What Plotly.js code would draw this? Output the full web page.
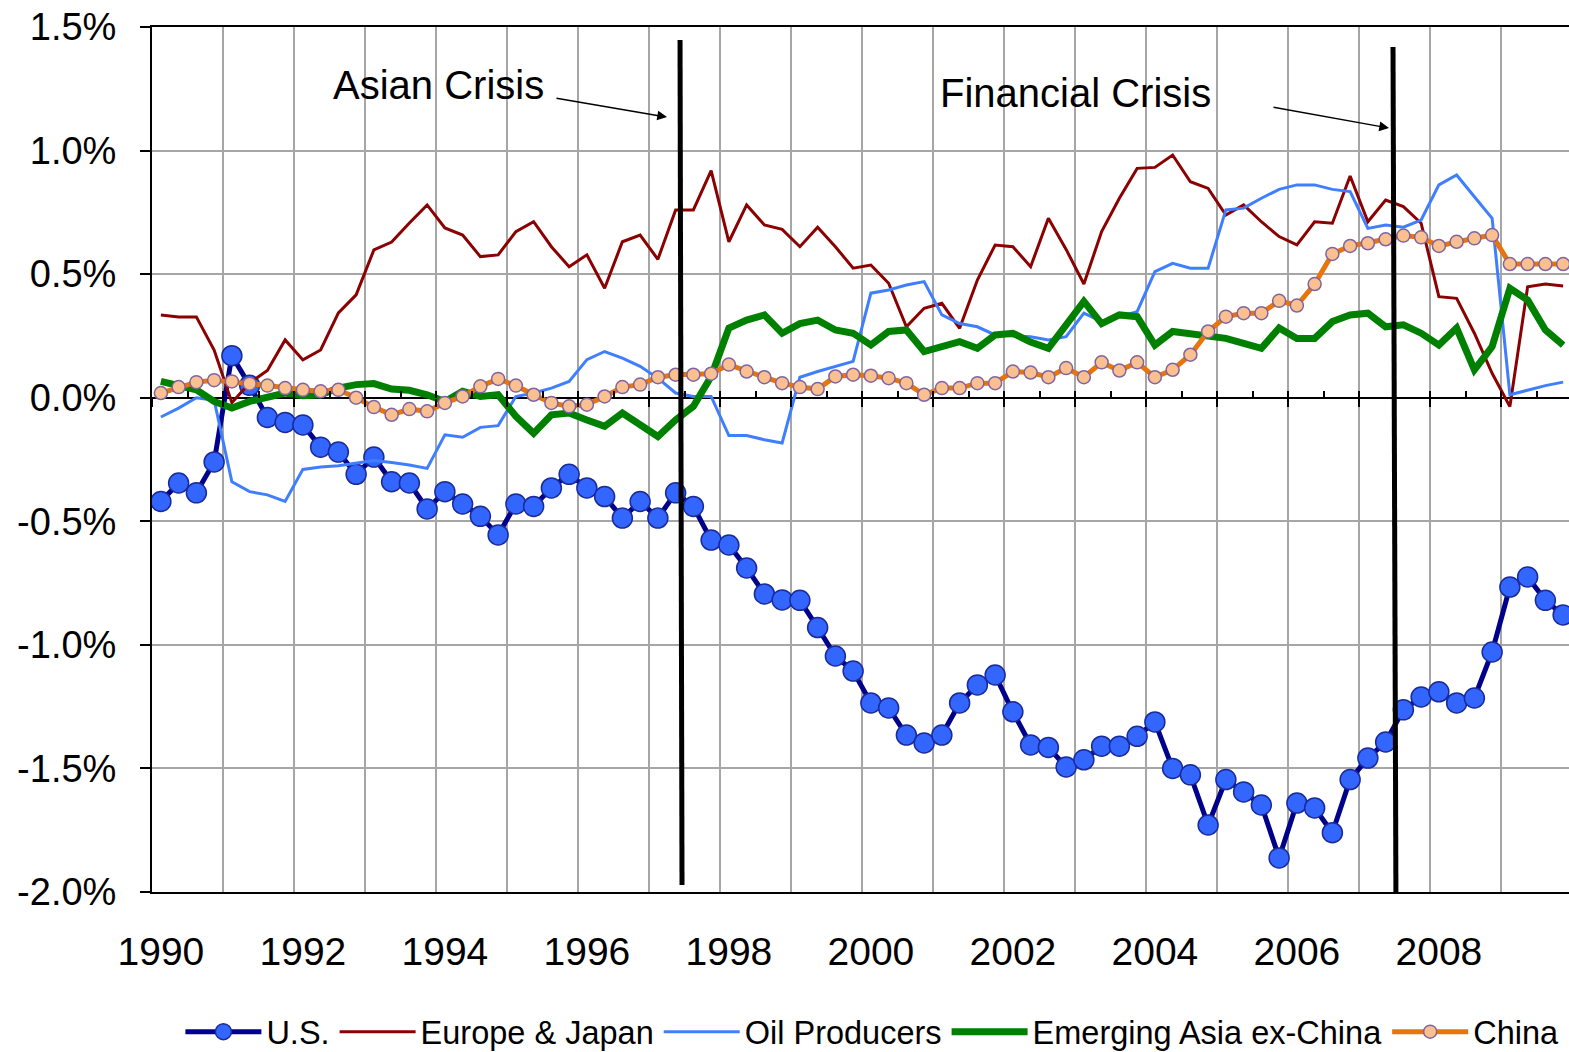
<!DOCTYPE html>
<html>
<head>
<meta charset="utf-8">
<script src="https://cdn.plot.ly/plotly-3.0.1.min.js"></script>
<style>
html,body{margin:0;padding:0;overflow:hidden;background:#fff;}
#chart{width:1580px;height:1052px;}
</style>
</head>
<body>
<div id="chart"></div>
<script>
// ---- data (percent of world GDP, quarterly 1990Q1 - 2009Q4) ----
const years = [];
for (let y = 1990; y <= 2009; y++) years.push(y);
const quarters = [];
years.forEach(y => { for (let q = 1; q <= 4; q++) quarters.push(y + (q - 0.5) / 4); });

const us = [-0.42,-0.345,-0.385,-0.26,0.17,0.05,-0.08,-0.10,-0.11,-0.20,
  -0.22,-0.31,-0.24,-0.34,-0.345,-0.45,-0.38,-0.43,-0.48,-0.555,
  -0.43,-0.44,-0.365,-0.31,-0.365,-0.40,-0.487,-0.42,-0.487,-0.385,
  -0.44,-0.576,-0.596,-0.689,-0.794,-0.818,-0.82,-0.93,-1.045,-1.106,
  -1.235,-1.255,-1.365,-1.397,-1.365,-1.235,-1.162,-1.122,-1.271,-1.405,
  -1.415,-1.494,-1.465,-1.41,-1.41,-1.37,-1.312,-1.50,-1.526,-1.729,
  -1.545,-1.595,-1.648,-1.862,-1.64,-1.66,-1.76,-1.545,-1.458,-1.393,
  -1.263,-1.211,-1.19,-1.235,-1.215,-1.029,-0.766,-0.725,-0.82,-0.879];
const europeJapan = [0.335,0.327,0.327,0.193,-0.02,0.06,0.11,0.234,0.153,0.193,
  0.343,0.416,0.598,0.63,0.707,0.78,0.687,0.658,0.571,0.578,
  0.672,0.712,0.611,0.53,0.578,0.443,0.631,0.658,0.56,0.76,
  0.76,0.919,0.631,0.78,0.699,0.681,0.611,0.69,0.611,0.524,
  0.537,0.463,0.287,0.362,0.382,0.281,0.476,0.618,0.611,0.53,
  0.726,0.60,0.46,0.672,0.807,0.928,0.932,0.982,0.874,0.847,
  0.739,0.78,0.712,0.652,0.618,0.712,0.706,0.897,0.712,0.80,
  0.773,0.706,0.409,0.402,0.261,0.099,-0.036,0.449,0.46,0.452];
const oilProducers = [-0.078,-0.042,0.0,-0.01,-0.34,-0.38,-0.393,-0.42,-0.29,-0.28,
  -0.275,-0.265,-0.254,-0.262,-0.272,-0.286,-0.15,-0.16,-0.12,-0.113,
  0.005,0.019,0.039,0.066,0.154,0.187,0.16,0.127,0.079,0.019,
  0.005,0.005,-0.153,-0.153,-0.17,-0.183,0.083,0.106,0.127,0.147,
  0.423,0.436,0.456,0.47,0.335,0.30,0.287,0.254,0.25,0.247,
  0.234,0.247,0.342,0.308,0.328,0.348,0.51,0.544,0.524,0.524,
  0.76,0.767,0.807,0.843,0.861,0.861,0.843,0.834,0.685,0.699,
  0.69,0.719,0.861,0.901,0.813,0.726,0.012,0.032,0.049,0.063];
const emergingAsia = [0.066,0.046,0.032,-0.015,-0.042,-0.015,0.005,0.019,0.008,0.012,
  0.039,0.053,0.057,0.035,0.03,0.012,-0.015,0.026,0.005,0.012,
  -0.075,-0.144,-0.069,-0.062,-0.09,-0.116,-0.062,-0.11,-0.157,-0.09,
  -0.035,0.086,0.282,0.314,0.335,0.261,0.30,0.314,0.274,0.261,
  0.213,0.268,0.274,0.187,0.207,0.227,0.2,0.254,0.261,0.225,
  0.20,0.295,0.39,0.30,0.335,0.328,0.213,0.268,0.261,0.247,
  0.24,0.22,0.20,0.282,0.24,0.24,0.308,0.335,0.342,0.287,
  0.295,0.261,0.213,0.282,0.113,0.207,0.443,0.395,0.274,0.213];
const china = [0.019,0.043,0.063,0.071,0.066,0.057,0.049,0.039,0.032,0.026,
  0.032,0.0,-0.038,-0.069,-0.046,-0.055,-0.021,0.005,0.046,0.076,
  0.049,0.012,-0.021,-0.035,-0.028,0.005,0.043,0.053,0.083,0.093,
  0.093,0.097,0.134,0.106,0.083,0.059,0.043,0.035,0.086,0.093,
  0.089,0.079,0.059,0.012,0.039,0.039,0.059,0.059,0.106,0.102,
  0.083,0.12,0.083,0.143,0.11,0.143,0.083,0.113,0.174,0.268,
  0.328,0.342,0.342,0.392,0.373,0.46,0.582,0.614,0.625,0.641,
  0.656,0.649,0.614,0.631,0.645,0.658,0.541,0.541,0.541,0.541];

const seriesNames = ['U.S.', 'Europe & Japan', 'Oil Producers', 'Emerging Asia ex-China', 'China'];

const xLabelYears = [1990,1992,1994,1996,1998,2000,2002,2004,2006,2008];
const yTickVals = [-2.0,-1.5,-1.0,-0.5,0.0,0.5,1.0,1.5];
const yTickText = ['-2.0%','-1.5%','-1.0%','-0.5%','0.0%','0.5%','1.0%','1.5%'];

// crisis annotations
const crisisLabels = ['Asian Crisis', 'Financial Crisis'];
const crisisLineTop = [[1997.437, 1.447], [2007.479, 1.419]];
const crisisLineBottom = [[1997.465, -1.972], [2007.52, -2.0]];
const crisisLabelPos = [[1994.042, 1.265], [2003.014, 1.233]];
const crisisArrowTail = [[1995.676, 1.2125], [2005.775, 1.176]];
const crisisArrowHead = [[1997.254, 1.1355], [2007.423, 1.091]];

// ---- chart ----
const FONT = '"Liberation Sans", Arial, sans-serif';
const xRange = [1990, 2010];

const traces = [
  { x: quarters, y: us, name: seriesNames[0], type: 'scatter', mode: 'lines+markers',
    line: { color: '#00008b', width: 5 },
    marker: { size: 20, color: '#3366ff', line: { color: '#1a2a9a', width: 1.5 } } },
  { x: quarters, y: europeJapan, name: seriesNames[1], type: 'scatter', mode: 'lines',
    line: { color: '#8b0000', width: 3 } },
  { x: quarters, y: oilProducers, name: seriesNames[2], type: 'scatter', mode: 'lines',
    line: { color: '#3f7fff', width: 3 } },
  { x: quarters, y: emergingAsia, name: seriesNames[3], type: 'scatter', mode: 'lines',
    line: { color: '#008000', width: 7 } },
  { x: quarters, y: china, name: seriesNames[4], type: 'scatter', mode: 'lines+markers',
    line: { color: '#e8740e', width: 5 },
    marker: { size: 13, color: '#fac090', line: { color: '#8064a2', width: 1.5 } } }
];

const halfYears = [];
years.forEach(y => { halfYears.push(y); halfYears.push(y + 0.5); });
halfYears.push(2010);
const gridYears = years.concat([2010]);

const shapes = crisisLineTop.map((t, i) => ({
  type: 'line', xref: 'x', yref: 'y',
  x0: t[0], y0: t[1], x1: crisisLineBottom[i][0], y1: crisisLineBottom[i][1],
  line: { color: '#000', width: 5 }, layer: 'above'
}));

const annotations = [];
crisisLabels.forEach((lab, i) => {
  annotations.push({ xref: 'x', yref: 'y', x: crisisLabelPos[i][0], y: crisisLabelPos[i][1],
    text: lab, showarrow: false, font: { family: FONT, size: 40, color: '#000' } });
  annotations.push({ xref: 'x', yref: 'y', axref: 'x', ayref: 'y',
    x: crisisArrowHead[i][0], y: crisisArrowHead[i][1],
    ax: crisisArrowTail[i][0], ay: crisisArrowTail[i][1],
    text: '', showarrow: true, arrowhead: 2, arrowsize: 1.3, arrowwidth: 1.5, arrowcolor: '#000' });
});

const zeroPos = (0 - (-2.0)) / (1.5 - (-2.0));

const layout = {
  width: 1580, height: 1052,
  margin: { l: 152, r: 8, t: 27, b: 160, autoexpand: false },
  paper_bgcolor: '#fff', plot_bgcolor: '#fff',
  font: { family: FONT, color: '#000' },
  showlegend: true,
  legend: { orientation: 'h', x: 0.02, xanchor: 'left', yref: 'container', y: 0.019, yanchor: 'middle',
    font: { family: FONT, size: 32.5, color: '#000' }, itemwidth: 76, tracegroupgap: 0,
    bgcolor: 'rgba(0,0,0,0)' },
  xaxis: { range: xRange, tickmode: 'array', tickvals: xLabelYears.map(y => y + 0.125),
    ticktext: xLabelYears.map(String), ticks: '', showgrid: false, zeroline: false,
    showline: true, linecolor: '#000', linewidth: 2, mirror: true, automargin: false,
    tickfont: { family: FONT, size: 39, color: '#000' }, ticklabelstandoff: 24 },
  xaxis2: { overlaying: 'x', range: xRange, tickmode: 'array', tickvals: gridYears,
    showticklabels: false, ticks: '', showgrid: true, gridcolor: '#a6a6a6', gridwidth: 2,
    zeroline: false, showline: false },
  xaxis3: { overlaying: 'x', anchor: 'free', position: zeroPos, range: xRange,
    tickmode: 'array', tickvals: gridYears, ticks: 'outside', ticklen: 8, tickwidth: 2,
    tickcolor: '#000', showticklabels: false, showgrid: false, zeroline: false, showline: false },
  xaxis4: { overlaying: 'x', anchor: 'free', position: zeroPos, range: xRange, side: 'bottom',
    tickmode: 'array', tickvals: halfYears, ticks: 'inside', ticklen: 7, tickwidth: 2,
    tickcolor: '#000', showticklabels: false, showgrid: false, zeroline: false, showline: false },
  yaxis: { range: [-2.0, 1.5], tickmode: 'array', tickvals: yTickVals, ticktext: yTickText,
    showgrid: true, gridcolor: '#a6a6a6', gridwidth: 2, automargin: false,
    zeroline: true, zerolinecolor: '#000', zerolinewidth: 2,
    showline: true, linecolor: '#000', linewidth: 2, mirror: true,
    ticks: 'outside', ticklen: 10, tickwidth: 2, tickcolor: '#000',
    tickfont: { family: FONT, size: 38, color: '#000' }, ticklabelstandoff: 16 },
  shapes: shapes,
  annotations: annotations
};

// invisible helper traces so the overlay axes render
const axisTraces = ['x2','x3','x4'].map(ax => ({
  x: [xRange[0]], y: [0], xaxis: ax, yaxis: 'y', type: 'scatter', mode: 'markers',
  marker: { opacity: 0 }, showlegend: false, hoverinfo: 'skip'
}));

Plotly.newPlot('chart', axisTraces.concat(traces), layout, { staticPlot: true, displayModeBar: false });
</script>
</body>
</html>
